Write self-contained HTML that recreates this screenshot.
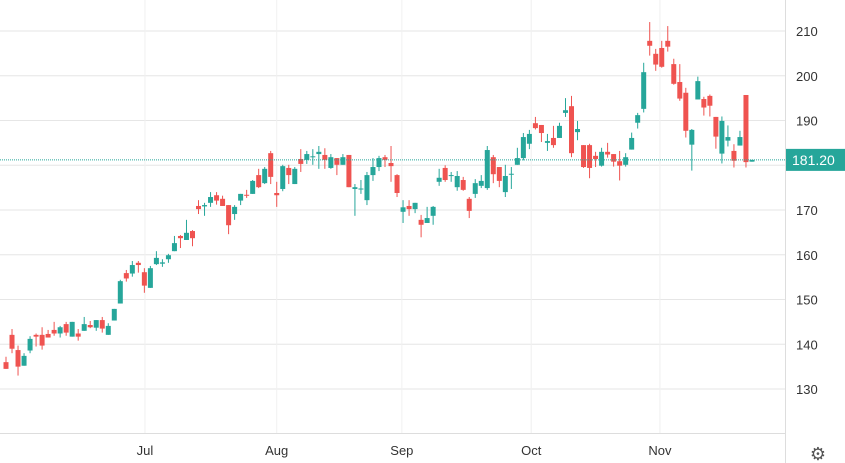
<!DOCTYPE html>
<html><head><meta charset="utf-8"><style>
html,body{margin:0;padding:0;background:#fff;}
svg{display:block;font-family:"Liberation Sans",sans-serif;}
</style></head><body>
<svg id="chart" width="845" height="463" viewBox="0 0 845 463">
<g id="grid"></g>
<g id="candles"></g>
<g id="yaxis"></g>
<g id="xaxis"></g>
<text x="818" y="460" font-size="18" fill="#555" text-anchor="middle">⚙</text>
</svg>
<script>
const opens=[136.0,142.1,138.7,135.2,138.6,142.1,142.1,142.3,143.2,142.4,144.5,141.7,142.4,143.0,144.3,143.7,145.4,142.1,145.3,149.1,155.9,155.8,158.2,156.1,152.6,157.9,158.0,159.0,160.8,164.2,163.3,165.3,170.9,170.8,171.6,173.3,172.5,171.1,169.1,172.1,173.4,173.6,177.8,176.0,182.7,173.8,174.7,179.4,175.8,181.4,181.2,181.8,182.5,182.3,179.4,181.6,180.1,182.3,174.7,174.6,172.2,177.8,179.6,181.8,180.5,177.8,169.6,170.9,170.2,167.8,167.1,168.7,176.3,179.4,177.6,175.1,176.7,172.5,173.6,175.4,174.9,181.8,179.6,174.0,177.9,180.1,181.6,184.8,189.4,189.0,185.0,186.1,186.1,191.7,193.2,187.4,184.5,184.5,182.1,179.9,183.0,182.5,180.9,180.1,183.5,189.5,192.6,207.8,204.9,206.2,207.8,202.6,198.6,196.2,184.6,194.7,194.8,195.5,190.8,182.6,185.5,183.2,184.4,195.7,180.8];
const highs=[137.2,143.4,139.7,138.0,141.8,142.4,143.8,143.2,145.0,144.1,145.0,145.0,143.4,146.1,145.2,145.4,146.1,144.7,147.9,154.4,156.6,158.6,158.6,157.0,157.5,160.8,159.0,160.2,164.2,164.4,167.8,165.5,172.2,171.6,174.0,174.0,173.2,171.1,171.1,173.6,174.5,176.7,179.2,179.6,183.2,176.3,180.1,180.1,179.6,183.6,183.2,183.6,184.3,183.8,182.5,181.6,182.5,182.3,175.8,176.7,178.5,181.6,182.1,182.3,184.3,178.0,172.2,172.2,171.6,168.9,170.7,170.9,179.2,180.0,178.5,178.7,177.4,172.9,176.9,177.8,184.3,182.3,179.6,180.1,179.6,183.9,187.2,187.9,190.8,189.0,187.0,188.8,189.5,195.0,195.5,189.9,184.5,184.8,183.0,183.9,185.0,182.5,183.2,182.7,187.3,191.7,202.9,212.0,206.0,207.8,211.1,203.8,202.6,197.3,188.1,199.8,195.3,195.8,190.8,190.9,188.9,184.7,187.7,195.7,181.2];
const lows=[134.5,138.0,133.0,135.2,138.0,139.5,138.8,141.5,141.9,141.5,141.9,141.7,140.8,143.0,143.6,143.0,142.6,142.1,145.3,149.1,154.0,155.1,156.0,151.5,152.6,157.7,157.3,158.2,160.8,161.5,163.3,161.9,169.1,168.7,170.7,171.2,170.9,164.6,167.8,171.1,172.7,173.6,174.9,175.8,175.8,170.7,174.2,175.8,175.8,178.5,180.3,180.1,179.2,179.2,179.2,177.8,180.1,175.1,168.7,173.6,171.1,176.5,178.7,179.6,176.3,172.9,167.1,168.7,169.3,163.9,167.1,166.7,175.4,176.3,176.3,174.3,174.3,168.2,172.7,174.9,174.5,176.0,175.1,172.9,174.7,180.1,181.1,183.6,188.0,185.2,183.2,183.9,186.1,190.8,181.8,185.6,179.4,177.1,179.6,179.7,181.7,179.7,176.6,179.7,183.5,188.2,191.8,204.5,201.1,201.8,205.4,198.0,194.4,186.2,178.8,194.7,191.1,190.9,183.7,180.4,184.2,179.5,184.4,179.5,180.8];
const closes=[134.5,139.0,135.0,137.4,141.2,141.7,139.7,141.5,142.4,143.8,142.6,145.0,141.7,144.5,143.8,145.4,143.5,144.1,147.9,154.1,154.7,157.7,157.7,153.1,157.0,159.3,158.3,159.9,162.6,163.7,164.9,163.7,170.2,171.1,172.9,172.1,170.9,166.6,170.7,173.6,173.2,176.5,175.1,179.2,177.4,173.3,179.8,177.8,179.2,180.3,182.5,182.0,183.0,181.2,181.8,180.1,181.8,175.1,175.1,174.8,177.8,179.6,181.6,181.2,179.8,173.8,170.6,170.2,171.6,166.7,168.2,170.7,177.2,176.7,177.8,177.6,174.5,169.8,176.0,176.5,183.4,178.0,176.5,177.6,178.1,181.6,186.3,187.0,188.3,187.2,185.4,184.5,188.8,192.3,182.7,188.1,179.6,179.4,181.4,183.0,182.4,180.8,179.9,181.8,186.1,191.2,200.8,206.7,202.5,202.0,206.5,198.2,194.9,187.7,187.9,198.8,192.9,193.3,186.4,189.9,186.3,181.0,186.3,180.7,181.2];
const priceTicks=[210,200,190,180,170,160,150,140,130];
const monthLabels=["Jul","Aug","Sep","Oct","Nov"];
const monthIndex=[23.1,45,65.8,87.3,108.7];
const lastPrice=181.20;

const NS="http://www.w3.org/2000/svg";
const yOf=p=>31+(210-p)*4.475;
const xOf=i=>6+6.016*i;
function mk(tag,attrs,parent){const e=document.createElementNS(NS,tag);for(const k in attrs)e.setAttribute(k,attrs[k]);parent.appendChild(e);return e;}
const grid=document.getElementById('grid'),cg=document.getElementById('candles'),ya=document.getElementById('yaxis'),xa=document.getElementById('xaxis');

priceTicks.forEach(p=>{
  const l=mk('line',{x1:0,x2:785,y1:yOf(p),y2:yOf(p),stroke:'#e6e6e6','stroke-width':1},grid);
  
  
  const t=mk('text',{x:796,y:yOf(p)+5,'font-size':13,fill:'#333'},ya);
  t.textContent=p;
  
  
});
monthLabels.forEach((m,k)=>{
  const x=xOf(monthIndex[k]);
  const l=mk('line',{x1:x,x2:x,y1:0,y2:433,stroke:'#f0f0f0','stroke-width':1},grid);
  
  
  const t=mk('text',{x:x,y:455,'font-size':13,fill:'#333','text-anchor':'middle'},xa);
  t.textContent=m;
  
  
});
const bl=mk('line',{x1:0,x2:785,y1:433.5,y2:433.5,stroke:'#ddd'},xa);


const rl=mk('line',{x1:785.5,x2:785.5,y1:0,y2:463,stroke:'#ddd'},ya);



for(let i=0;i<opens.length;i++){
  const up=closes[i]>=opens[i];const col=up?'#26a69a':'#ef5350';const x=xOf(i);
  const g=mk('g',{},cg);
  
  
  mk('line',{x1:x,x2:x,y1:yOf(highs[i]),y2:yOf(lows[i]),stroke:col,'stroke-width':1},g);
  const top=yOf(Math.max(opens[i],closes[i])),bot=yOf(Math.min(opens[i],closes[i]));
  mk('rect',{x:x-2.5,y:top,width:5,height:Math.max(1,bot-top),fill:col},g);
}
const ly=yOf(lastPrice);
const pl=mk('line',{x1:0,x2:785,y1:ly,y2:ly,stroke:'#26a69a','stroke-width':1,'stroke-dasharray':'1,1'},cg);


const bx=mk('rect',{x:786,y:ly-11,width:59,height:22,fill:'#26a69a'},ya);


const bt=mk('text',{x:792,y:ly+5,'font-size':14,fill:'#fff'},ya);
bt.textContent=lastPrice.toFixed(2);


</script>
</body></html>
